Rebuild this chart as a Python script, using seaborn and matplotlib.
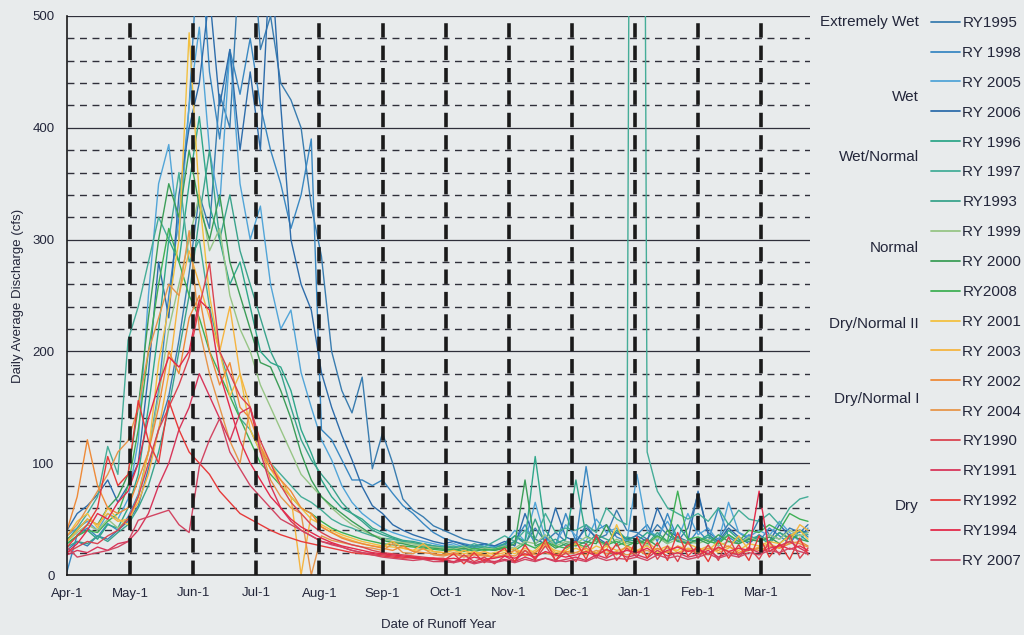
import matplotlib
matplotlib.use("Agg")
import matplotlib.pyplot as plt
import numpy as np
import pandas as pd
import seaborn as sns
from matplotlib.lines import Line2D
from matplotlib.ticker import FixedLocator

# ---------------- data (5-day samples) ----------------
DAYS = list(range(0, 361, 5)) + [364]

MONTH_POS = [0, 31, 62, 93, 124, 155, 186, 217, 248, 279, 310, 341]
MONTH_LABELS = ["Apr-1", "May-1", "Jun-1", "Jul-1", "Aug-1", "Sep-1",
                "Oct-1", "Nov-1", "Dec-1", "Jan-1", "Feb-1", "Mar-1"]

YEARS = ["RY1995", "RY1998", "RY2005", "RY2006", "RY1996", "RY1997", "RY1993",
         "RY1999", "RY2000", "RY2008", "RY2001", "RY2003", "RY2002", "RY2004",
         "RY1990", "RY1991", "RY1992", "RY1994", "RY2007"]
LEGEND_LABELS = ["RY1995", "RY 1998", "RY 2005", "RY 2006", "RY 1996", "RY 1997",
                 "RY1993", "RY 1999", "RY 2000", "RY2008", "RY 2001", "RY 2003",
                 "RY 2002", "RY 2004", "RY1990", "RY1991", "RY1992", "RY1994",
                 "RY 2007"]
CATEGORIES = ["Extremely Wet", "Wet", "Wet/Normal", "Normal",
              "Dry/Normal II", "Dry/Normal I", "Dry"]

#            Apr                           May                          Jun                           Jul                                Aug                          Sep                       Oct                       Nov                           Dec                      Jan                         Feb                      Mar
RY1995 = [22, 30, 26, 35, 32, 40,  48, 62, 95, 130, 160, 210,  270, 340, 310, 430, 400, 560,  600, 470, 500, 440, 425, 400, 330,  285, 200, 165, 145, 177, 95,  127, 100, 68, 58, 52, 44,  40, 36, 32, 30, 28, 26,  27, 35, 28, 42, 30, 38, 30,  28, 45, 32, 36, 58, 40,  38, 32, 45, 36, 30, 42,  72, 38, 32, 46, 38, 32,  50, 36, 32, 42, 38, 45]
RY1998 = [3, 36, 42, 34, 46, 40,  52, 72, 110, 165, 250, 320,  420, 580, 450, 390, 470, 430,  480, 420, 380, 350, 310, 340, 390,  130, 121, 103, 85, 85, 80,  85, 73, 62, 55, 46, 38,  33, 30, 28, 26, 28, 25,  26, 30, 45, 28, 34, 26, 55,  30, 97, 40, 45, 34, 30,  36, 45, 30, 55, 32, 28,  40, 30, 60, 34, 28, 36,  30, 42, 35, 28, 40, 34]
RY2005 = [35, 42, 48, 40, 55, 50,  68, 120, 250, 350, 385, 300,  420, 490, 380, 330, 470, 350,  300, 330, 260, 220, 237, 181, 150,  121, 103, 80, 65, 55, 48,  42, 38, 35, 32, 30, 28,  26, 28, 25, 24, 27, 25,  28, 40, 30, 65, 32, 28, 45,  35, 30, 50, 38, 42, 30,  90, 40, 35, 48, 32, 55,  36, 42, 30, 65, 38, 34,  40, 35, 48, 38, 30, 42]
RY2006 = [40, 55, 62, 72, 85, 65,  80, 100, 180, 280, 230, 340,  400, 440, 520, 420, 470, 380,  450, 380, 560, 420, 300, 260, 237,  181, 150, 125, 103, 79, 62,  55, 45, 40, 36, 33, 30,  28, 30, 27, 25, 28, 26,  30, 26, 55, 32, 28, 60, 34,  30, 42, 34, 28, 38, 32,  35, 30, 60, 40, 34, 30,  75, 36, 30, 42, 34, 28,  36, 30, 45, 35, 40, 38]
RY1996 = [28, 35, 40, 32, 45, 42,  60, 90, 150, 220, 300, 280,  350, 410, 330, 300, 260, 280,  240, 200, 190, 186, 165, 130, 109,  85, 70, 60, 55, 50, 42,  38, 34, 31, 30, 28, 26,  25, 24, 26, 23, 25, 24,  28, 35, 30, 106, 40, 28, 32,  85, 35, 30, 28, 40, 32,  30, 38, 34, 28, 45, 32,  30, 36, 28, 40, 32, 30,  34, 28, 38, 32, 36, 30]
RY1997 = [30, 42, 55, 70, 115, 90,  210, 240, 280, 320, 300, 360,  280, 300, 240, 200, 170, 140,  130, 110, 100, 90, 80, 70, 65,  58, 50, 45, 42, 38, 35,  33, 32, 30, 28, 28, 26,  25, 26, 24, 28, 25, 30,  35, 30, 40, 32, 55, 38, 42,  40, 45, 38, 60, 50, 45,  2400, 110, 75, 60, 55, 50,  55, 48, 60, 45, 58, 50,  48, 55, 45, 60, 68, 70]
RY1993 = [25, 30, 28, 35, 30, 38,  45, 60, 80, 110, 150, 200,  250, 320, 380, 300, 340, 290,  260, 230, 200, 181, 150, 121, 103,  90, 79, 65, 55, 48, 40,  36, 33, 30, 29, 27, 26,  24, 25, 23, 26, 24, 22,  25, 30, 26, 50, 28, 32, 26,  30, 28, 36, 32, 28, 34,  32, 28, 38, 30, 34, 28,  30, 34, 28, 36, 30, 32,  35, 30, 38, 33, 40, 36]
RY1999 = [30, 38, 45, 40, 50, 42,  50, 70, 110, 160, 220, 260,  300, 340, 290, 310, 250, 220,  200, 170, 150, 130, 110, 90, 80,  70, 60, 52, 45, 40, 36,  33, 30, 29, 28, 26, 25,  24, 23, 25, 22, 24, 23,  26, 24, 30, 28, 36, 26, 30,  28, 34, 30, 26, 32, 28,  30, 26, 34, 28, 32, 30,  28, 32, 26, 30, 28, 34,  30, 36, 32, 40, 35, 38]
RY2000 = [32, 40, 50, 45, 60, 70,  90, 150, 230, 300, 350, 320,  380, 330, 300, 340, 280, 250,  220, 190, 186, 165, 140, 109, 85,  70, 62, 55, 48, 42, 36,  31, 29, 28, 26, 25, 24,  23, 22, 24, 21, 23, 22,  24, 28, 85, 26, 30, 24, 28,  26, 30, 28, 45, 26, 30,  28, 32, 26, 40, 30, 28,  32, 28, 36, 30, 28, 32,  30, 34, 28, 36, 32, 30]
RY2008 = [28, 35, 40, 38, 48, 55,  80, 130, 200, 260, 310, 280,  250, 230, 200, 180, 160, 140,  120, 100, 90, 80, 70, 60, 55,  48, 42, 38, 35, 32, 30,  28, 27, 26, 25, 24, 23,  22, 23, 21, 24, 22, 23,  25, 22, 28, 24, 30, 26, 24,  28, 25, 32, 27, 30, 26,  30, 28, 35, 30, 75, 32,  34, 30, 28, 36, 30, 40,  38, 45, 40, 55, 50, 48]
RY2001 = [35, 48, 55, 42, 60, 50,  45, 70, 110, 190, 240, 300,  485, 338, 250, 200, 160, 180,  130, 110, 95, 80, 70, 60, 50,  45, 40, 36, 33, 30, 28,  26, 25, 24, 22, 23, 21,  20, 22, 19, 21, 18, 20,  22, 19, 24, 20, 26, 22, 20,  24, 20, 26, 22, 45, 24,  22, 26, 20, 24, 22, 28,  24, 22, 30, 25, 22, 28,  26, 30, 28, 35, 40, 32]
RY2003 = [30, 40, 50, 45, 55, 48,  50, 65, 90, 130, 180, 250,  290, 260, 230, 200, 240, 180,  150, 115, 100, 85, 70, 0, 55,  43, 38, 34, 31, 28, 26,  25, 30, 24, 22, 28, 21,  20, 18, 22, 19, 21, 18,  20, 24, 18, 22, 30, 20, 22,  28, 22, 20, 26, 22, 24,  20, 30, 22, 26, 20, 24,  22, 26, 20, 24, 35, 22,  25, 28, 24, 30, 45, 40]
RY2002 = [40, 70, 121, 80, 60, 55,  60, 85, 110, 150, 200, 180,  230, 250, 200, 170, 190, 150,  140, 115, 95, 85, 75, 60, 55,  43, 38, 33, 30, 28, 26,  24, 22, 26, 21, 20, 19,  18, 20, 17, 19, 18, 16,  18, 22, 17, 20, 28, 18, 21,  20, 24, 19, 22, 18, 26,  22, 18, 24, 20, 26, 22,  20, 24, 22, 26, 20, 24,  22, 26, 24, 28, 30, 26]
RY2004 = [35, 45, 60, 75, 90, 110,  120, 150, 200, 230, 260, 250,  308, 220, 180, 150, 120, 100,  150, 115, 85, 70, 60, 55, 0,  35, 31, 29, 27, 25, 24,  22, 28, 20, 19, 24, 18,  17, 19, 16, 18, 17, 16,  18, 17, 22, 18, 20, 17, 19,  20, 18, 22, 19, 21, 18,  20, 22, 18, 21, 19, 23,  20, 18, 24, 21, 19, 22,  24, 21, 26, 30, 28, 25]
RY1990 = [20, 25, 30, 28, 35, 40,  50, 70, 100, 130, 150, 170,  195, 240, 279, 200, 180, 160,  150, 120, 100, 80, 65, 55, 45,  38, 33, 30, 27, 25, 22,  20, 19, 18, 17, 16, 15,  15, 11, 18, 12, 16, 10,  17, 12, 22, 14, 26, 13, 20,  12, 28, 15, 30, 13, 24,  16, 32, 14, 26, 12, 30,  15, 27, 13, 34, 16, 25,  14, 30, 18, 36, 15, 24]
RY1991 = [18, 22, 20, 25, 22, 28,  30, 40, 55, 80, 100, 130,  150, 180, 160, 140, 120, 145,  150, 110, 80, 60, 48, 40, 35,  30, 28, 25, 22, 20, 19,  18, 17, 16, 15, 14, 14,  13, 12, 14, 11, 13, 12,  14, 12, 16, 13, 15, 12, 14,  16, 13, 18, 15, 20, 16,  18, 15, 22, 17, 20, 16,  18, 22, 16, 20, 18, 24,  20, 24, 26, 30, 24, 20]
RY1992 = [25, 35, 45, 60, 106, 80,  90, 156, 120, 100, 156, 130,  110, 100, 90, 75, 65, 55,  50, 45, 40, 36, 33, 30, 28,  26, 24, 22, 20, 19, 18,  17, 16, 15, 16, 14, 15,  13, 19, 10, 20, 11, 18,  24, 12, 27, 14, 32, 13, 25,  30, 14, 36, 16, 28, 12,  34, 15, 29, 13, 38, 17,  26, 12, 31, 15, 27, 13,  35, 16, 28, 14, 33, 18]
RY1994 = [20, 28, 40, 55, 50, 65,  75, 100, 140, 170, 195, 186,  200, 246, 237, 180, 150, 120,  100, 85, 70, 60, 50, 43, 38,  33, 29, 26, 24, 22, 20,  19, 18, 17, 16, 15, 15,  14, 15, 13, 16, 14, 15,  17, 15, 19, 16, 21, 18, 16,  18, 21, 17, 23, 19, 22,  20, 24, 18, 22, 25, 21,  23, 19, 25, 21, 24, 22,  75, 21, 27, 23, 26, 22]
RY2007 = [25, 16, 18, 20, 22, 25,  30, 49, 52, 55, 58, 45,  38, 97, 121, 140, 110, 95,  80, 70, 60, 50, 45, 40, 35,  30, 27, 25, 22, 20, 18,  16, 15, 14, 13, 14, 12,  12, 11, 13, 10, 12, 11,  13, 11, 14, 12, 15, 13, 12,  14, 12, 16, 13, 15, 14,  16, 13, 18, 15, 17, 14,  16, 19, 15, 18, 16, 20,  18, 22, 20, 24, 21, 19]

SERIES = [RY1995, RY1998, RY2005, RY2006, RY1996, RY1997, RY1993, RY1999, RY2000,
          RY2008, RY2001, RY2003, RY2002, RY2004, RY1990, RY1991, RY1992, RY1994, RY2007]

COLORS = ["#3a7db0", "#3a88c2", "#52a5d8", "#2e6dab", "#2fa78a", "#45ad98", "#3aa38c",
          "#97c586", "#3c9e58", "#3fb055", "#f2c040", "#f5b440", "#ee8a38", "#e6954a",
          "#da4450", "#d8365a", "#e63a3a", "#e32a4a", "#d24562"]

# category label centre rows (legend row index, may be fractional)
CAT_ROWS = [0, 2.5, 4.5, 7.55, 10.1, 12.6, 16.2]

# ---------------- build frame ----------------
frames = []
for name, vals in zip(YEARS, SERIES):
    frames.append(pd.DataFrame({"day": DAYS, "cfs": vals, "year": name}))
df = pd.concat(frames, ignore_index=True)
palette = dict(zip(YEARS, COLORS))

sns.set_style("white")
plt.rcParams["font.family"] = ["Liberation Sans", "DejaVu Sans"]

BG = "#e8ebec"
TXT = "#23263a"
fig = plt.figure(figsize=(10.24, 6.35), dpi=100, facecolor=BG)
ax = fig.add_axes([67 / 1024, 60 / 635, (810 - 67) / 1024, (575 - 16) / 635])
ax.set_facecolor(BG)

# horizontal grid (behind data)
for v in range(20, 500, 20):
    if v % 100 == 0:
        ax.axhline(v, color="#2f2f3a", lw=0.9, zorder=0.5)
    else:
        ax.axhline(v, color="#2f2f3a", lw=1.0, ls=(0, (5, 4)), zorder=0.5)
ax.axhline(500, color="#2f2f3a", lw=0.9, zorder=0.5)

sns.lineplot(data=df, x="day", y="cfs", hue="year", hue_order=YEARS,
             palette=palette, linewidth=1.0, legend=False, estimator=None,
             ax=ax, zorder=2)

# month separators on top
for p in MONTH_POS[1:]:
    ax.axvline(p, color="#1a1a1a", lw=2.6, ls=(0, (4, 2.2)), zorder=3)

ax.set_xlim(0, 365)
ax.set_ylim(0, 500)
ax.xaxis.set_major_locator(FixedLocator(MONTH_POS))
ax.set_xticklabels(MONTH_LABELS)
minor_x = [m + k * 31 / 6 for m in MONTH_POS for k in range(1, 6)]
minor_x = [m for m in minor_x if m < 365]
ax.xaxis.set_minor_locator(FixedLocator(minor_x))
ax.yaxis.set_major_locator(FixedLocator(list(range(0, 501, 100))))
ax.yaxis.set_minor_locator(FixedLocator(list(range(0, 501, 20))))
ax.tick_params(axis="both", which="major", direction="out", length=5, width=1,
               color="#1a1a1a", labelsize=9.5, labelcolor=TXT, pad=4)
ax.tick_params(axis="both", which="minor", direction="out", length=3, width=1,
               color="#1a1a1a")
ax.set_xlabel("Date of Runoff Year", fontsize=9.5, color=TXT, labelpad=14)
ax.set_ylabel("Daily Average Discharge (cfs)", fontsize=9.5, color=TXT, labelpad=6)
for s in ["top", "right"]:
    ax.spines[s].set_visible(False)
for s in ["left", "bottom"]:
    ax.spines[s].set_color("#1a1a1a")
    ax.spines[s].set_linewidth(1.2)

# legend
handles = [Line2D([], [], color=c, lw=1.3) for c in COLORS]
leg = fig.legend(handles, LEGEND_LABELS, loc="upper left",
                 bbox_to_anchor=(931 / 1024, 1 - 16 / 635), frameon=False,
                 fontsize=11, handlelength=1.9, handletextpad=0.15,
                 labelspacing=1.04, borderaxespad=0, borderpad=0)
for t in leg.get_texts():
    t.set_color(TXT)

row0 = 22
pitch = 29.9
for cat, r in zip(CATEGORIES, CAT_ROWS):
    fig.text(919 / 1024, 1 - (row0 + r * pitch) / 635, cat, ha="right",
             va="center", fontsize=11, color=TXT)

fig.savefig("out.png", dpi=100, facecolor=BG)
